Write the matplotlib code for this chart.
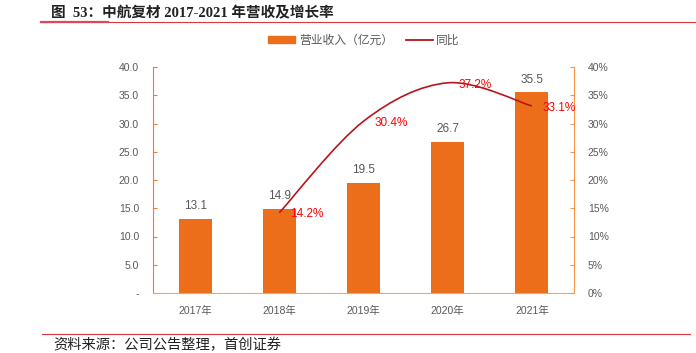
import matplotlib.pyplot as plt
import numpy as np
from matplotlib.path import Path
from matplotlib.patches import PathPatch, Patch
from matplotlib.lines import Line2D

plt.rcParams['font.family'] = ['Liberation Sans', 'Noto Sans CJK SC']

years = ['2017年', '2018年', '2019年', '2020年', '2021年']
revenue = [13.1, 14.9, 19.5, 26.7, 35.5]
yoy_years = [1, 2, 3, 4]
yoy = [14.2, 30.4, 37.2, 33.1]

bar_color = '#EC6E1B'
line_color = '#B8151B'
gray = '#595959'

fig = plt.figure(figsize=(6.96, 3.53), dpi=100)
ax = fig.add_axes([153/696, 1-293/353, (574-153)/696, (293-67)/353])
ax2 = ax.twinx()

x = np.arange(len(years))
ax.bar(x, revenue, width=0.39, color=bar_color, zorder=2)
for xi, v in zip(x, revenue):
    ax.text(xi, v + 1.2, f'{v:.1f}', ha='center', va='bottom', fontsize=8.5, color=gray)

ax.set_xlim(-0.5, 4.5)
ax.set_ylim(0, 40)
ax.set_yticks(np.arange(0, 41, 5))
ax.set_yticklabels(['-'] + [f'{v:.1f}' for v in np.arange(5, 41, 5)])
ax.set_xticks(x)
ax.set_xticklabels(years)
ax.tick_params(axis='y', direction='in', length=3, color='#ED7D31', labelcolor=gray, labelsize=7.5, pad=10)
ax.tick_params(axis='x', length=0, labelcolor=gray, labelsize=7.5, pad=9)

ax2.set_ylim(0, 40)
ax2.set_yticks(np.arange(0, 41, 5))
ax2.set_yticklabels([f'{v}%' for v in range(0, 41, 5)])
ax2.tick_params(axis='y', direction='in', length=3, color='#F79646', labelcolor=gray, labelsize=7.5, pad=10)

for a in (ax, ax2):
    a.spines['top'].set_visible(False)
ax.spines['left'].set_color('#ED7D31')
ax.spines['right'].set_visible(False)
ax.spines['bottom'].set_color('#F4A460')
ax2.spines['left'].set_visible(False)
ax2.spines['bottom'].set_visible(False)
ax2.spines['right'].set_color('#F79646')

# smoothed line (Catmull-Rom as cubic Bezier)
px = np.array(yoy_years, dtype=float)
py = np.array(yoy, dtype=float)
verts = [(px[0], py[0])]
codes = [Path.MOVETO]
n = len(px)
for i in range(n - 1):
    p0 = (px[i-1], py[i-1]) if i > 0 else (px[i], py[i])
    p1 = (px[i], py[i])
    p2 = (px[i+1], py[i+1])
    p3 = (px[i+2], py[i+2]) if i + 2 < n else (px[i+1], py[i+1])
    c1 = (p1[0] + (p2[0]-p0[0])/6, p1[1] + (p2[1]-p0[1])/6)
    c2 = (p2[0] - (p3[0]-p1[0])/6, p2[1] - (p3[1]-p1[1])/6)
    verts += [c1, c2, p2]
    codes += [Path.CURVE4] * 3
ax2.add_patch(PathPatch(Path(verts, codes), facecolor='none', edgecolor=line_color, lw=1.2, zorder=3))
for xi, v in zip(yoy_years, yoy):
    ax2.text(xi + 0.13, v - 0.3, f'{v:.1f}%', ha='left', va='center', fontsize=8.5, color='#FF0000', zorder=4)

handles = [Patch(color=bar_color), Line2D([], [], color=line_color, lw=1.3)]
fig.legend(handles, ['营业收入（亿元）', '同比'], loc='center', bbox_to_anchor=(364/696, 1-41/353),
           ncol=2, frameon=False, fontsize=8.5, labelcolor=gray, handlelength=2.3, handleheight=0.55,
           columnspacing=1.1, handletextpad=0.3)

fig.text(51/696, 1-13/353, '图  53：中航复材 2017-2021 年营收及增长率', fontsize=10.5,
         fontweight='bold', color='#222222', va='center',
         family=['Liberation Serif', 'Noto Sans CJK SC'])
fig.add_artist(Line2D([40/696, 1], [1-21.5/353]*2, color='#D9383E', lw=0.8))
fig.add_artist(Line2D([41/696, 108/696], [1-21.5/353]*2, color='#E0455A', lw=1.6))
fig.add_artist(Line2D([42/696, 690/696], [1-334/353]*2, color='#D9383E', lw=0.8))
fig.text(53/696, 1-344.5/353, '资料来源：公司公告整理，首创证券', fontsize=10.3, style='italic',
         color='#222222', va='center', family=['Noto Sans CJK SC'])

fig.savefig('out.png', dpi=100)
